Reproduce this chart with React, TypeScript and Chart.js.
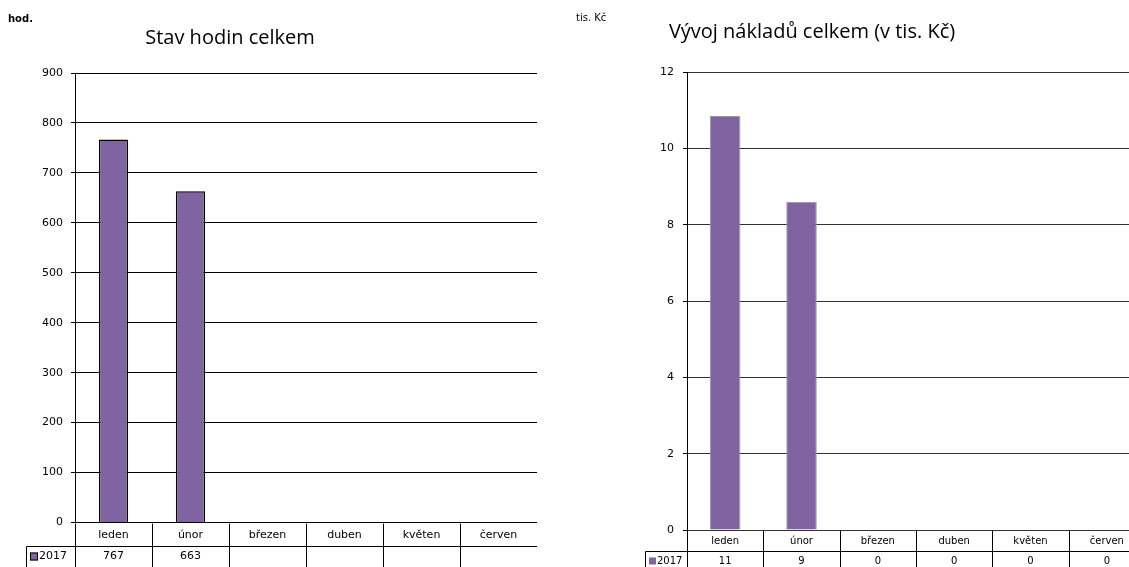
import React, { useEffect, useRef } from 'react';
import { Chart, registerables } from 'chart.js';

Chart.register(...registerables);

// ---- data ----
const categories = ['leden', 'únor', 'březen', 'duben', 'květen', 'červen'];
const seriesLabel = '2017';
const hoursValues: (number | null)[] = [767, 663, null, null, null, null];
const costValues: number[] = [10.85, 8.6, 0, 0, 0, 0];
const hoursTicks = { min: 0, max: 900, step: 100 };
const costTicks = { min: 0, max: 12, step: 2 };
const hoursTitle = 'Stav hodin celkem';
const costTitle = 'Vývoj nákladů celkem (v tis. Kč)';
const hoursUnit = 'hod.';
const costUnit = 'tis. Kč';

const PURPLE = '#8064A2';

type TableCfg = {
  title: string;
  titleX: number;
  titleY: number;
  titleFont: string;
  unit: string;
  unitX: number;
  unitY: number;
  unitFont: string;
  legendLeft: number;
  row1H: number;
  tableFont: string;
  catY: number;
  valY: number;
  valueTexts: string[];
  lineColor: string;
  lineWidth: number;
  squareBorder: string | null;
  squareSize: number;
};

function makePlugin(cfg: TableCfg) {
  return {
    id: 'dataTable',
    afterDraw(chart: any) {
      const { ctx, chartArea: a, scales } = chart;
      const x = scales.x;
      const H = chart.height;
      const n = categories.length;
      const w = (a.right - a.left) / n;
      const top = Math.round(a.bottom) + 0.5;
      const r1 = Math.round(a.bottom + cfg.row1H) + 0.5;
      ctx.save();
      // titles
      ctx.fillStyle = '#000';
      ctx.textBaseline = 'alphabetic';
      ctx.font = cfg.titleFont;
      ctx.textAlign = 'center';
      ctx.fillText(cfg.title, cfg.titleX, cfg.titleY);
      ctx.font = cfg.unitFont;
      ctx.textAlign = 'left';
      ctx.fillText(cfg.unit, cfg.unitX, cfg.unitY);

      // table lines
      ctx.strokeStyle = cfg.lineColor;
      ctx.lineWidth = cfg.lineWidth;
      ctx.beginPath();
      const axX = Math.round(a.left) + 0.5;
      ctx.moveTo(axX, top);
      ctx.lineTo(axX, H);
      for (let i = 1; i < n; i++) {
        const bx = Math.round(x.getPixelForValue(i) - w / 2) + 0.5;
        ctx.moveTo(bx, top);
        ctx.lineTo(bx, H);
      }
      ctx.moveTo(cfg.legendLeft + 0.5, r1);
      ctx.lineTo(a.right, r1);
      ctx.moveTo(cfg.legendLeft + 0.5, r1);
      ctx.lineTo(cfg.legendLeft + 0.5, H);
      ctx.stroke();

      // texts
      ctx.fillStyle = '#000';
      ctx.font = cfg.tableFont;
      ctx.textAlign = 'center';
      ctx.textBaseline = 'middle';
      for (let i = 0; i < n; i++) {
        const cx = x.getPixelForValue(i);
        ctx.fillText(categories[i], cx, cfg.catY);
        ctx.fillText(cfg.valueTexts[i], cx, cfg.valY);
      }
      // legend key
      const sq = cfg.squareSize;
      const sx = cfg.legendLeft + 4;
      const sy = cfg.valY - sq / 2;
      ctx.fillStyle = PURPLE;
      ctx.fillRect(sx, sy, sq, sq);
      if (cfg.squareBorder) {
        ctx.strokeStyle = cfg.squareBorder;
        ctx.lineWidth = 1;
        ctx.strokeRect(sx + 0.5, sy + 0.5, sq - 1, sq - 1);
      }
      ctx.fillStyle = '#000';
      ctx.textAlign = 'left';
      ctx.fillText(seriesLabel, sx + sq + 1, cfg.valY);
      ctx.restore();
    },
  };
}

function BarChart(props: {
  left: number;
  width: number;
  values: (number | null)[];
  ticks: { min: number; max: number; step: number };
  axisWidth: number;
  padding: { left: number; top: number; right: number; bottom: number };
  barPercentage: number;
  barBorder: string;
  barBorderWidth: number;
  gridColor: string;
  tickPadding: number;
  plugin: any;
}) {
  const ref = useRef<HTMLCanvasElement>(null);
  useEffect(() => {
    const canvas = ref.current!;
    const chart = new Chart(canvas, {
      type: 'bar',
      data: {
        labels: categories,
        datasets: [
          {
            label: seriesLabel,
            data: props.values as any,
            backgroundColor: PURPLE,
            borderColor: props.barBorder,
            borderWidth: props.barBorderWidth,
            barPercentage: props.barPercentage,
            categoryPercentage: 1,
          },
        ],
      },
      options: {
        animation: false,
        responsive: false,
        maintainAspectRatio: false,
        layout: { padding: props.padding },
        plugins: {
          legend: { display: false },
          title: { display: false },
          tooltip: { enabled: false },
        },
        scales: {
          x: { display: false, offset: true },
          y: {
            min: props.ticks.min,
            max: props.ticks.max,
            afterFit: (s: any) => {
              s.width = props.axisWidth;
            },
            ticks: {
              stepSize: props.ticks.step,
              color: '#000',
              padding: props.tickPadding,
              font: { family: '"DejaVu Sans"', size: 11 },
            },
            grid: {
              color: props.gridColor,
              lineWidth: 1,
              tickLength: 4,
              tickColor: '#000',
            },
            border: { display: true, color: '#000', width: 1 },
          },
        },
      },
      plugins: [props.plugin],
    });
    return () => chart.destroy();
  }, []);
  return (
    <canvas
      ref={ref}
      width={props.width}
      height={567}
      style={{ position: 'absolute', left: props.left, top: 0, width: props.width, height: 567 }}
    />
  );
}

const hoursPlugin = makePlugin({
  title: hoursTitle,
  titleX: 230,
  titleY: 44,
  titleFont: '20px "Open Sans"',
  unit: hoursUnit,
  unitX: 8,
  unitY: 22,
  unitFont: 'bold 10px "DejaVu Sans"',
  legendLeft: 26,
  row1H: 23.5,
  tableFont: '11px "DejaVu Sans"',
  catY: 535,
  valY: 556.5,
  valueTexts: hoursValues.map((v) => (v == null ? '' : String(Math.round(v)))),
  lineColor: '#000',
  lineWidth: 1,
  squareBorder: '#000',
  squareSize: 8,
});

const costPlugin = makePlugin({
  title: costTitle,
  titleX: 252,
  titleY: 38,
  titleFont: '20px "Open Sans"',
  unit: costUnit,
  unitX: 16,
  unitY: 21,
  unitFont: '10px "DejaVu Sans"',
  legendLeft: 85,
  row1H: 21,
  tableFont: '10px "DejaVu Sans"',
  catY: 541,
  valY: 561,
  valueTexts: costValues.map((v) => String(Math.round(v))),
  lineColor: '#000',
  lineWidth: 1,
  squareBorder: null,
  squareSize: 7,
});

export default function App() {
  return (
    <div
      style={{
        position: 'absolute',
        left: 0,
        top: 0,
        width: 1129,
        height: 567,
        overflow: 'hidden',
        background: '#fff',
      }}
    >
      <BarChart
        left={0}
        width={560}
        values={hoursValues}
        ticks={hoursTicks}
        axisWidth={75}
        padding={{ left: 0, top: 73, right: 23, bottom: 44.5 }}
        barPercentage={0.38}
        barBorder="#000"
        barBorderWidth={1.5}
        gridColor="#000"
        tickPadding={8}
        plugin={hoursPlugin}
      />
      <BarChart
        left={560}
        width={600}
        values={costValues}
        ticks={costTicks}
        axisWidth={127}
        padding={{ left: 0, top: 72, right: 15, bottom: 37 }}
        barPercentage={0.4}
        barBorder="#999"
        barBorderWidth={1}
        gridColor="#333"
        tickPadding={9}
        plugin={costPlugin}
      />
    </div>
  );
}
